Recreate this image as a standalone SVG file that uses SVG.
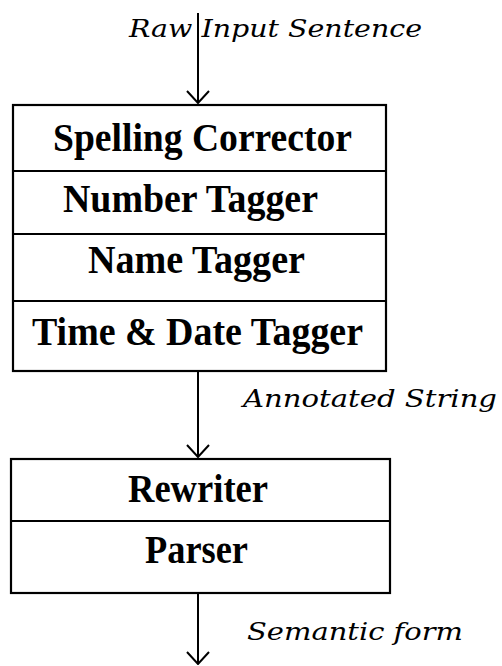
<svg xmlns="http://www.w3.org/2000/svg" width="502" height="666" viewBox="0 0 502 666">
  <defs>
    <!-- open chevron arrowhead, drawn pointing along +x -->
    <marker id="vee" viewBox="0 0 14 24" refX="13" refY="12" markerWidth="14" markerHeight="24" markerUnits="userSpaceOnUse" orient="auto">
      <path d="M1,1 L13,12 L1,23" fill="none" stroke="#000" stroke-width="2"/>
    </marker>
  </defs>
  <style>
    .box { fill: #fff; stroke: #000; stroke-width: 2.2; }
    .div { stroke: #000; stroke-width: 2; }
    .stage { font-family: "Liberation Serif", "Times New Roman", serif; font-weight: bold; font-size: 40px; fill: #000; }
    .flow { font-family: "DejaVu Serif", "Liberation Serif", serif; font-style: italic; font-size: 25px; fill: #000; }
    .edge { stroke: #000; stroke-width: 2; fill: none; }
  </style>
  <rect width="502" height="666" fill="#fff"/>

  <!-- preprocessing stack -->
  <g id="preprocessor">
    <rect class="box" x="13" y="105" width="373" height="266"/>
    <line class="div" x1="13" y1="171" x2="386" y2="171"/>
    <line class="div" x1="13" y1="234" x2="386" y2="234"/>
    <line class="div" x1="13" y1="301" x2="386" y2="301"/>
    <g id="spelling-corrector">
      <text class="stage" x="53" y="151" textLength="299" lengthAdjust="spacingAndGlyphs">Spelling Corrector</text>
    </g>
    <g id="number-tagger">
      <text class="stage" x="63" y="212" textLength="255" lengthAdjust="spacingAndGlyphs">Number Tagger</text>
    </g>
    <g id="name-tagger">
      <text class="stage" x="88" y="273" textLength="217" lengthAdjust="spacingAndGlyphs">Name Tagger</text>
    </g>
    <g id="time-date-tagger">
      <text class="stage" x="32" y="345" textLength="331" lengthAdjust="spacingAndGlyphs">Time &amp; Date Tagger</text>
    </g>
  </g>

  <!-- rewriting and parsing stack -->
  <g id="analyzer">
    <rect class="box" x="11" y="459" width="379" height="134"/>
    <line class="div" x1="11" y1="521" x2="390" y2="521"/>
    <g id="rewriter">
      <text class="stage" x="128" y="502" textLength="140" lengthAdjust="spacingAndGlyphs">Rewriter</text>
    </g>
    <g id="parser">
      <text class="stage" x="145" y="563" textLength="103" lengthAdjust="spacingAndGlyphs">Parser</text>
    </g>
  </g>

  <!-- data passed between stages -->
  <g id="connectors">
    <line class="edge" x1="198" y1="13" x2="198" y2="103" marker-end="url(#vee)"/>
    <line class="edge" x1="198" y1="372" x2="198" y2="457" marker-end="url(#vee)"/>
    <line class="edge" x1="198" y1="594" x2="198" y2="664" marker-end="url(#vee)"/>
    <text class="flow" x="129" y="37" textLength="293" lengthAdjust="spacingAndGlyphs">Raw Input Sentence</text>
    <text class="flow" x="243" y="407" textLength="254" lengthAdjust="spacingAndGlyphs">Annotated String</text>
    <text class="flow" x="247" y="640" textLength="216" lengthAdjust="spacingAndGlyphs">Semantic form</text>
  </g>
</svg>
